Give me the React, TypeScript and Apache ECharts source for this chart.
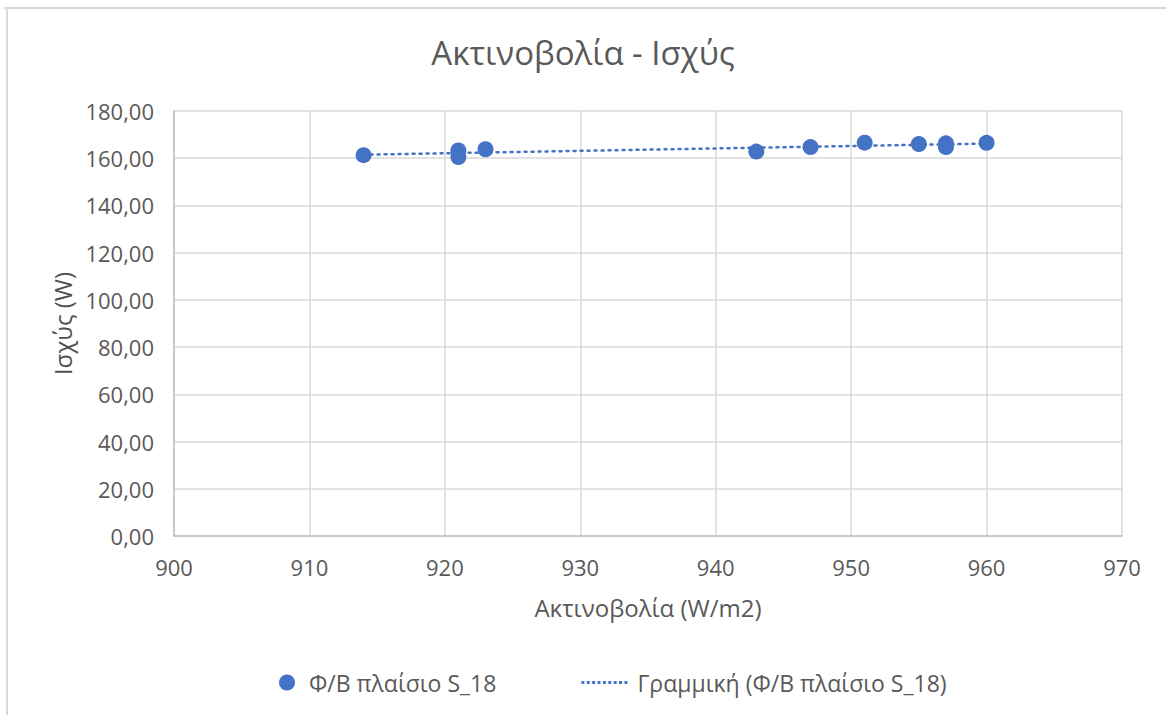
import React, { useEffect, useRef } from "react";
import * as echarts from "echarts";

const irradiance = [914, 921, 921, 923, 943, 947, 951, 955, 957, 957, 960];
const power = [161.3, 163.3, 160.5, 163.8, 162.8, 164.7, 166.6, 166.0, 166.3, 164.7, 166.5];
const xTicks = [900, 910, 920, 930, 940, 950, 960, 970];
const yTicks = [0, 20, 40, 60, 80, 100, 120, 140, 160, 180];
const seriesName = "Φ/Β πλαίσιο S_18";
const trendName = "Γραμμική (Φ/Β πλαίσιο S_18)";
const titleText = "Ακτινοβολία - Ισχύς";
const xName = "Ακτινοβολία (W/m2)";
const yName = "Ισχύς (W)";

function linearFit(xs: number[], ys: number[]) {
  const n = xs.length;
  const mx = xs.reduce((a, b) => a + b, 0) / n;
  const my = ys.reduce((a, b) => a + b, 0) / n;
  let sxy = 0, sxx = 0;
  for (let i = 0; i < n; i++) {
    sxy += (xs[i] - mx) * (ys[i] - my);
    sxx += (xs[i] - mx) * (xs[i] - mx);
  }
  const b = sxy / sxx;
  return { a: my - b * mx, b };
}

function dottedIcon(count: number) {
  let d = "path://";
  for (let i = 0; i < count; i++) {
    const x = i * 5.5;
    d += `M${x},0h3v3h-3z `;
  }
  return d.trim();
}

export default function App() {
  const ref = useRef<HTMLDivElement>(null);
  useEffect(() => {
    const chart = echarts.init(ref.current!, null, { renderer: "svg" });
    const fit = linearFit(irradiance, power);
    const xMin = Math.min(...irradiance);
    const xMax = Math.max(...irradiance);
    const trend = [
      [xMin, fit.a + fit.b * xMin],
      [xMax, fit.a + fit.b * xMax],
    ];
    const font = "'Open Sans', 'Noto Sans', sans-serif";
    const grey = "#595959";
    chart.setOption({
      animation: false,
      backgroundColor: "#ffffff",
      textStyle: { fontFamily: font },
      title: {
        text: titleText,
        left: "center",
        top: 31,
        textStyle: { fontSize: 33, fontWeight: "normal", color: grey, fontFamily: font },
      },
      grid: { left: 174, top: 111, right: 44, bottom: 179, containLabel: false },
      legend: {
        bottom: 16,
        left: 274,
        itemGap: 85,
        itemWidth: 46,
        itemHeight: 16,
        symbolKeepAspect: true,
        textStyle: { fontSize: 23, color: grey, fontFamily: font },
        data: [
          {
            name: seriesName,
            icon: "circle",
            itemStyle: { color: "#4472C4" },
            textStyle: { padding: [0, 0, 0, -6] },
          },
          {
            name: trendName,
            icon: dottedIcon(9),
            itemStyle: { color: "#4472C4" },
            textStyle: { padding: [0, 0, 0, 5] },
          },
        ],
      },
      xAxis: {
        type: "value",
        min: 900,
        max: 970,
        interval: 10,
        name: xName,
        nameLocation: "middle",
        nameGap: 59,
        nameTextStyle: { fontSize: 24, color: grey },
        axisLine: { show: true, lineStyle: { color: "#bfbfbf", width: 1.5 } },
        axisTick: { show: false },
        axisLabel: { fontSize: 22, color: grey, margin: 20 },
        splitLine: { show: true, lineStyle: { color: "#d9d9d9", width: 1.5 } },
      },
      yAxis: {
        type: "value",
        min: 0,
        max: 180,
        interval: 20,
        name: yName,
        nameLocation: "middle",
        nameGap: 99,
        nameRotate: 90,
        nameTextStyle: { fontSize: 24, color: "#505050" },
        axisLine: { show: true, lineStyle: { color: "#bfbfbf", width: 1.5 } },
        axisTick: { show: false },
        axisLabel: {
          fontSize: 22,
          color: grey,
          margin: 20,
          formatter: (v: number) => v.toFixed(2).replace(".", ","),
        },
        splitLine: { show: true, lineStyle: { color: "#d9d9d9", width: 1.5 } },
      },
      series: [
        {
          name: trendName,
          type: "line",
          data: trend,
          showSymbol: false,
          symbol: "none",
          lineStyle: { color: "#4472C4", width: 2.5, type: [2, 5], cap: "round" },
          itemStyle: { color: "#4472C4" },
          z: 1,
        },
        {
          name: seriesName,
          type: "scatter",
          data: irradiance.map((x, i) => [x, power[i]]),
          symbol: "circle",
          symbolSize: 16,
          itemStyle: { color: "#4472C4", opacity: 1 },
          z: 2,
        },
      ],
      graphic: [
        { type: "line", shape: { x1: 4, y1: 8, x2: 1166, y2: 8 }, style: { stroke: "#d9d9d9", lineWidth: 2 } },
        { type: "line", shape: { x1: 7, y1: 8, x2: 7, y2: 715 }, style: { stroke: "#d9d9d9", lineWidth: 2 } },
      ],
    });
    return () => chart.dispose();
  }, []);
  return (
    <div
      ref={ref}
      style={{ position: "absolute", left: 0, top: 0, width: 1166, height: 715 }}
    />
  );
}
